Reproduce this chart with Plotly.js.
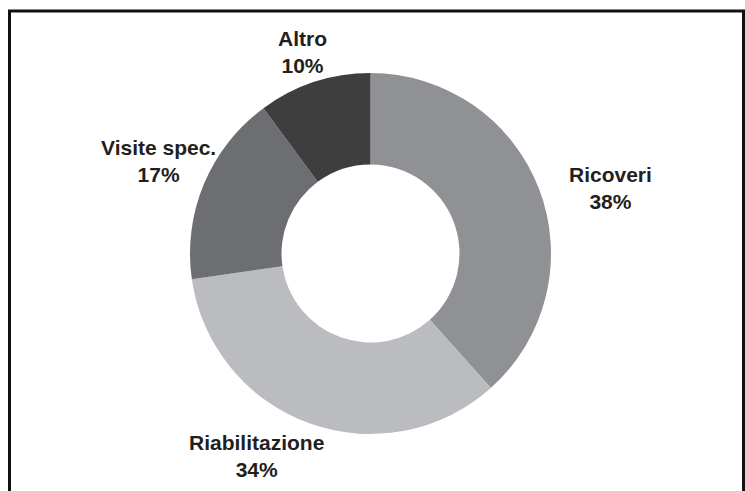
<!DOCTYPE html>
<html>
<head>
<meta charset="utf-8">
<script src="https://cdn.plot.ly/plotly-3.0.1.min.js"></script>
<style>html,body{margin:0;padding:0;background:#fff;}#chart{width:745px;height:491px;}</style>
</head>
<body>
<div id="chart"></div>
<script>
var categories = ["Ricoveri", "Riabilitazione", "Visite spec.", "Altro"];
var values = [38, 34, 17, 10];
var colors = ["#909195", "#bbbcbf", "#6d6e71", "#3e3e3f"];
var labelX = [610, 256, 158, 302];
var labelY = [188, 456, 161, 52];

var W = 745, H = 491;
var annotations = categories.map(function (c, i) {
  return {
    xref: "paper", yref: "paper",
    x: labelX[i] / W, y: 1 - labelY[i] / H,
    xanchor: "center", yanchor: "middle",
    text: "<b>" + c + "<br>" + values[i] + "%</b>",
    showarrow: false,
    font: {family: "Liberation Sans, Arial, sans-serif", size: 21, color: "#231f20"}
  };
});

var trace = {
  type: "pie",
  labels: categories,
  values: values,
  sort: false,
  direction: "clockwise",
  rotation: 0,
  hole: 0.493,
  textinfo: "none",
  hoverinfo: "none",
  marker: {colors: colors, line: {width: 0}},
  domain: {x: [0.2550, 0.7396], y: [0.1161, 0.8513]},
  showlegend: false
};

var layout = {
  width: W, height: H,
  margin: {l: 0, r: 0, t: 0, b: 0},
  paper_bgcolor: "#ffffff",
  showlegend: false,
  annotations: annotations,
  shapes: [{
    type: "rect", xref: "paper", yref: "paper",
    x0: 9.5 / W, x1: 743.5 / W, y0: -0.05, y1: 1 - 11 / H,
    line: {color: "#111111", width: 3}
  }]
};

Plotly.newPlot("chart", [trace], layout, {displayModeBar: false, staticPlot: true});
</script>
</body>
</html>
